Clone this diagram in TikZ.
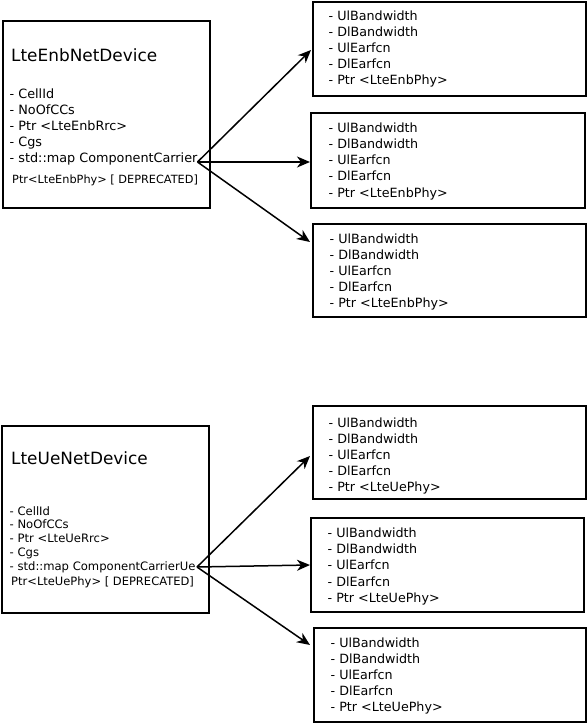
\documentclass[tikz,border=0pt]{standalone}
\usepackage{fontspec}
\setmainfont{DejaVu Sans}
\usetikzlibrary{arrows.meta,calc}
\begin{document}
\begin{tikzpicture}[x=1pt,y=-1pt,
  box/.style={draw,line width=2pt,rectangle,inner sep=0pt,anchor=north west},
  txt/.style={inner sep=0pt,anchor=base west},
  title/.style={txt,font=\fontsize{16.9}{20}\selectfont},
  enbitem/.style={txt,font=\fontsize{12.8}{15}\selectfont},
  ueitem/.style={txt,font=\fontsize{11.6}{14}\selectfont},
  depr/.style={txt,font=\fontsize{11.3}{14}\selectfont},
  ccitem/.style={txt,font=\fontsize{12.7}{15}\selectfont},
  conn/.style={line width=1.5pt,-{Stealth[length=13pt,width=11pt,inset=4pt]}}]
\useasboundingbox (0,0) rectangle (588,724);
% ---------- eNB ----------
\node[box,minimum width=207pt,minimum height=187pt] (enb) at (2,20) {};
\node[title] (enbtitle) at (11,61) {LteEnbNetDevice};
\foreach \t [count=\i] in {- CellId,- NoOfCCs,- Ptr <LteEnbRrc>,- Cgs,- std::map ComponentCarrier}
  \node[enbitem] (enbi\i) at (9.5,{98+(\i-1)*16.2}) {\t};
\node[depr] (enbdep) at (12,183) {Ptr<LteEnbPhy> [ DEPRECATED]};
\coordinate (enbsrc) at (197.5,162);

\node[box,minimum width=273pt,minimum height=94pt] (e1) at (312,1) {};
\node[box,minimum width=274pt,minimum height=95pt] (e2) at (310,112) {};
\node[box,minimum width=273pt,minimum height=93pt] (e3) at (312,223) {};
\foreach \b/\x/\y/\s in {e1/328.5/20.7/16,e2/328.5/132.3/16.2,e3/329.5/243/16}{
  \foreach \t [count=\i] in {- UlBandwidth,- DlBandwidth,- UlEarfcn,- DlEarfcn,- Ptr <LteEnbPhy>}
    \node[ccitem] (\b t\i) at (\x,{\y+(\i-1)*\s}) {\t};
}
\draw[conn] (enbsrc) -- ($(e1.north west)+(-1,49)$);
\draw[conn] (enbsrc) -- (e2.west |- enbsrc);
\draw[conn] (enbsrc) -- ($(e3.north west)+(-2,19)$);

% ---------- UE ----------
\node[box,minimum width=207pt,minimum height=187pt] (ue) at (1,425) {};
\node[title] (uetitle) at (11,464) {LteUeNetDevice};
\foreach \t [count=\i] in {- CellId,- NoOfCCs,- Ptr <LteUeRrc>,- Cgs,- std::map ComponentCarrierUe}
  \node[ueitem] (uei\i) at (9.5,{515+(\i-1)*13.75}) {\t};
\node[depr,font=\fontsize{11.5}{14}\selectfont] (uedep) at (11,585) {Ptr<LteUePhy> [ DEPRECATED]};
\coordinate (uesrc) at (197,567);

\node[box,minimum width=273pt,minimum height=93pt] (u1) at (312,405) {};
\node[box,minimum width=273pt,minimum height=94pt] (u2) at (310,517) {};
\node[box,minimum width=272pt,minimum height=94pt] (u3) at (313,627) {};
\foreach \b/\x/\y/\s in {u1/328.5/427.3/16,u2/327.5/537.3/16.25,u3/330.5/647.6/16}{
  \foreach \t [count=\i] in {- UlBandwidth,- DlBandwidth,- UlEarfcn,- DlEarfcn,- Ptr <LteUePhy>}
    \node[ccitem] (\b t\i) at (\x,{\y+(\i-1)*\s}) {\t};
}
\draw[conn] (uesrc) -- ($(u1.north west)+(-2,51)$);
\draw[conn] (uesrc) -- (u2.west);
\draw[conn] (uesrc) -- ($(u3.north west)+(-3,18)$);
\end{tikzpicture}
\end{document}
